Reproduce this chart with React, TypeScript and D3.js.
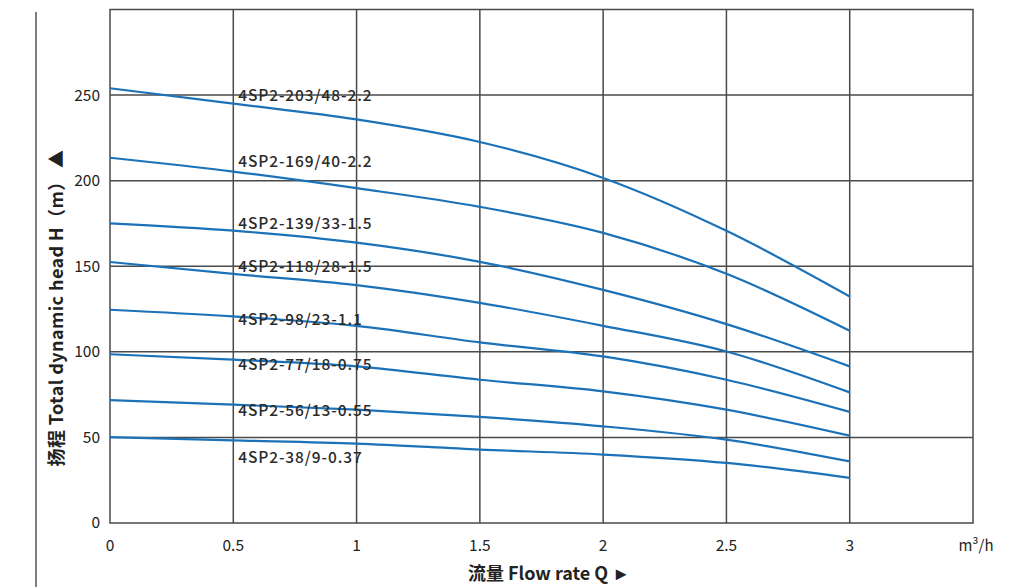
import React from "react";
import * as d3 from "d3";

const flowQ = [0, 0.5, 1, 1.5, 2, 2.5, 3];
const models = [
  "4SP2-203/48-2.2",
  "4SP2-169/40-2.2",
  "4SP2-139/33-1.5",
  "4SP2-118/28-1.5",
  "4SP2-98/23-1.1",
  "4SP2-77/18-0.75",
  "4SP2-56/13-0.55",
  "4SP2-38/9-0.37",
];
const head203 = [254, 245, 235.8, 222.6, 201.6, 170.7, 132.3];
const head169 = [213.4, 205.3, 195.6, 184.7, 169.5, 145.6, 112.3];
const head139 = [175.1, 170.8, 163.8, 152.6, 136.2, 116.2, 91.5];
const head118 = [152.5, 145.5, 139, 128.6, 115.2, 100.2, 76.3];
const head98 = [124.6, 120.7, 115.2, 105.5, 97.3, 83.7, 64.9];
const head77 = [98.6, 95.4, 91.5, 83.7, 76.9, 66.2, 51];
const head56 = [71.8, 69.1, 66.2, 62, 56.5, 48.7, 36];
const head38 = [50.2, 48.3, 46.4, 42.9, 40, 35.1, 26.4];
const heads = [head203, head169, head139, head118, head98, head77, head56, head38];
const labelQ = 0.52;
const labelH = [250, 210.9, 174.7, 149.7, 118.7, 92.5, 65.6, 38.2];
const xTicks = [0, 0.5, 1, 1.5, 2, 2.5, 3];
const yTicks = [0, 50, 100, 150, 200, 250];
const xGrid = [0.5, 1, 1.5, 2, 2.5, 3];
const yGrid = [50, 100, 150, 200, 250];

const W = 1026;
const H = 587;
const left = 110;
const right = 973;
const top = 9.5;
const bottom = 523;

export default function App() {
  const x = d3.scaleLinear().domain([0, 3.5]).range([left, right]);
  const y = d3.scaleLinear().domain([0, 300]).range([bottom, top]);
  const line = d3
    .line<number>()
    .x((_, i) => x(flowQ[i]))
    .y((d) => y(d))
    .curve(d3.curveMonotoneX);
  const font = "'Noto Sans CJK SC', 'Noto Sans', sans-serif";
  const gridColor = "#4a4a4a";
  return (
    <svg
      width={W}
      height={H}
      style={{ position: "absolute", left: 0, top: 0, background: "#fff" }}
      fontFamily={font}
    >
      <line x1={36} x2={36} y1={12} y2={H} stroke="#555" strokeWidth={1.5} />
      {xGrid.map((v) => (
        <line key={"xg" + v} x1={x(v)} x2={x(v)} y1={top} y2={bottom} stroke={gridColor} strokeWidth={1.5} />
      ))}
      {yGrid.map((v) => (
        <line key={"yg" + v} x1={left} x2={right} y1={y(v)} y2={y(v)} stroke={gridColor} strokeWidth={1.5} />
      ))}
      <rect x={left} y={top} width={right - left} height={bottom - top} fill="none" stroke={gridColor} strokeWidth={1.5} />
      {heads.map((h, i) => (
        <path key={"c" + i} d={line(h) || ""} fill="none" stroke="#1b72b8" strokeWidth={2.2} />
      ))}
      {models.map((m, i) => (
        <text
          key={"l" + i}
          x={x(labelQ)}
          y={y(labelH[i])}
          dy="0.35em"
          fontSize={15.5}
          fontWeight={500}
          fill="#2a2a2a"
          letterSpacing={0.9}
        >
          {m}
        </text>
      ))}
      {yTicks.map((v) => (
        <text key={"yt" + v} x={100} y={y(v)} dy="0.35em" textAnchor="end" fontSize={15.5} fill="#222">
          {v}
        </text>
      ))}
      {xTicks.map((v) => (
        <text key={"xt" + v} x={x(v)} y={546} dy="0.35em" textAnchor="middle" fontSize={15.5} fill="#222">
          {v}
        </text>
      ))}
      <text x={976} y={546} dy="0.35em" textAnchor="middle" fontSize={15} fill="#222">
        m³/h
      </text>
      <text x={549} y={574} dy="0.35em" textAnchor="middle" fontSize={18} fontWeight="bold" fill="#222">
        流量 Flow rate Q  ►
      </text>
      <text
        transform={`translate(57,308) rotate(-90)`}
        dy="0.35em"
        textAnchor="middle"
        fontSize={18}
        fontWeight="bold"
        fill="#222"
        letterSpacing={0.4}
      >
        扬程 Total dynamic head H（m） ▲
      </text>
    </svg>
  );
}
